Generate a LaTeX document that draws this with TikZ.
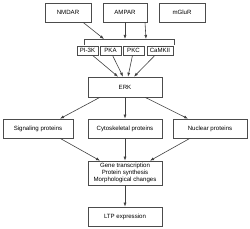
\documentclass[tikz,border=0pt]{standalone}
\usepackage{fontspec}
\setmainfont{Liberation Sans}
\usetikzlibrary{arrows.meta,calc}
\begin{document}
\begin{tikzpicture}[x=1pt,y=-1pt,
  box/.style={draw=black!70,line width=0.6pt,fill=white,inner sep=0pt,minimum height=19pt,font=\fontsize{6.1}{7}\selectfont,align=center},
  sbox/.style={box,minimum height=9pt},
  conn/.style={draw=black!75,line width=0.6pt,-{Latex[length=4pt,width=3pt]}},
  brk/.style={draw=black!70,line width=0.6pt}]
\useasboundingbox (0,0) rectangle (250,229);
\node[box,minimum width=46pt] (nmdar) at (68,12.5) {NMDAR};
\node[box,minimum width=44pt] (ampar) at (125,12.5) {AMPAR};
\node[box,minimum width=46pt] (mglur) at (182,12.5) {mGluR};
\node[sbox,minimum width=21pt] (pi3k) at (87.5,50.5) {PI-3K};
\node[sbox,minimum width=21pt] (pka) at (110.5,50.5) {PKA};
\node[sbox,minimum width=21pt] (pkc) at (133.5,50.5) {PKC};
\node[sbox,minimum width=26pt] (camkii) at (160,50.5) {CaMKII};
\node[box,minimum width=74pt,minimum height=20pt] (erk) at (125,87) {ERK};
\node[box,minimum width=70pt] (sig) at (38,128.5) {Signaling proteins};
\node[box,minimum width=74pt] (cyto) at (125,128.5) {Cytoskeletal proteins};
\node[box,minimum width=74pt] (nuc) at (210,128.5) {Nuclear proteins};
\node[box,minimum width=74pt,minimum height=24pt] (gene) at (125,173) {Gene transcription\\Protein synthesis\\Morphological changes};
\node[box,minimum width=74pt] (ltp) at (125,216.5) {LTP expression};
% bracket
\coordinate (bl) at (84,45);
\coordinate (br) at (174,45);
\draw[brk] (bl) -- (84,39) coordinate (blt) -- (174,39) coordinate (brt) -- (br);
\coordinate (t1) at (104,39);
\coordinate (t2) at (125,39);
\coordinate (t3) at (146,39);
\draw[conn] ($(nmdar.south)+(15,0)$) -- (t1);
\draw[conn] (ampar.south) -- (t2);
\draw[conn] ($(mglur.south)+(-37,0)$) -- (t3);
% kinases to ERK
\draw[conn] ($(pi3k.south)+(5,0)$) -- ($(erk.north)+(-7,0)$);
\draw[conn] ($(pka.south)+(2,0)$) -- ($(erk.north)+(-2,0)$);
\draw[conn] ($(pkc.south)+(-1,0)$) -- ($(erk.north)+(3,0)$);
\draw[conn] ($(camkii.south)+(-5,0)$) -- ($(erk.north)+(9,0)$);
% ERK to proteins
\draw[conn] ($(erk.south)+(-25,0)$) -- ($(sig.north)+(22,0)$);
\draw[conn] (erk.south) -- (cyto.north);
\draw[conn] ($(erk.south)+(20,0)$) -- ($(nuc.north)+(-22,0)$);
% proteins to gene
\draw[conn] ($(sig.south)+(22,0)$) -- ($(gene.north)+(-25,0)$);
\draw[conn] (cyto.south) -- (gene.north);
\draw[conn] ($(nuc.south)+(-20,0)$) -- ($(gene.north)+(25,0)$);
\draw[conn] (gene.south) -- (ltp.north);
\end{tikzpicture}
\end{document}
